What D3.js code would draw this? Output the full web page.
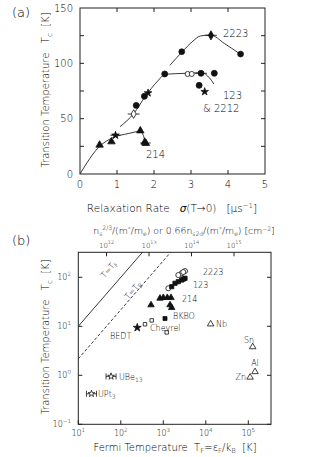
<!DOCTYPE html>
<html><head><meta charset="utf-8">
<script src="https://cdn.jsdelivr.net/npm/d3@7"></script>
<style>
body{margin:0;background:#fff;}
svg{display:block;font-family:"DejaVu Sans",sans-serif;font-weight:200;}
text{fill:#000;}
</style></head>
<body><svg id="c" width="315" height="457"></svg>
<script>
// ---------- Panel (a) data: sigma (us^-1), Tc (K) ----------
const a2223Circles = [[2.75,110.5],[4.34,108.4]];
const a2223Diamond = [[3.54,125.3]];
const a2223Curve = [[2.43,98.2],[2.75,110],[3.05,120],[3.25,124.7],[3.53,125.6],[3.9,118],[4.3,109]];
const a123Filled = [[1.52,62],[1.74,70.2],[2.29,90.4],[3.27,91],[3.63,91],[3.22,80.1]];
const a123Open = [[2.91,90.4],[3.02,90.4]];
const a123Stars = [[1.84,73.2],[3.37,74.4]];
const a123Crossed = [[1.45,54.2]];
const a123Curve = [[1.08,42.7],[1.46,55],[1.76,69.9],[2.1,84],[2.3,90.1],[2.88,91],[3.29,91.5],[3.5,86.8],[3.62,81.3]];
const a214Tri = [[0.53,26.2],[0.85,29.2],[1.63,39.1],[1.78,27.7],[1.75,28.8]];
const a214Stars = [[0.96,35]];
const a214Curve = [[0,0],[0.53,25],[0.9,33],[1.3,36.5],[1.62,38.5],[1.71,35],[1.77,27.5]];
const aErrBars = [[3.54,125.3,0.16],[1.45,54.2,0.16],[3.27,91,0.16],[1.77,28,0.14],[0.96,35,0.14]];
const aXTicks = [0,1,2,3,4,5];
const aYTicks = [0,50,100,150];
const aYMinor = [25,75,125];

// ---------- Panel (b) data: T_F (K), Tc (K) ----------
const b2223Open = [[3240,134],[2710,121],[2255,111],[1312,59.7],[2950,128]];
const b123Filled = [[3240,95.4],[2710,88],[2255,81.3],[1884,75.5],[1577,64.3],[2950,92]];
const b214Tri = [[514,27.2],[836,37.2],[1000,38.4],[1242,38.4],[1517,38.4],[1439,27.2],[1577,24]];
const bBKBO = [[1096,14.4]];
const bChevrel = [[371,11],[533,13.2],[1202,7.5]];
const bBEDT = [[244,9.4]];
const bMetals = [[13000,11.1],[127000,3.8],[144000,1.18],[110000,0.91]];
const bHeavy = [[59,0.95],[20.4,0.42]];
const bXTicks = [1,2,3,4,5];
const bYTicks = [-1,0,1,2];
const bTopTicks = [12,13,14,15];
const TB_RATIO = 4.6;

const svg = d3.select("#c");

// ================= Panel (a) =================
const ax = d3.scaleLinear().domain([0,5]).range([80,265]);
const ay = d3.scaleLinear().domain([0,150]).range([174,8]);
const ga = svg.append("g");
ga.append("rect").attr("x",80).attr("y",8).attr("width",185).attr("height",166)
  .attr("fill","none").attr("stroke","#222").attr("stroke-width",1);
const tk=4;
[1,2,3,4].forEach(v=>{
  ga.append("line").attr("x1",ax(v)).attr("x2",ax(v)).attr("y1",174).attr("y2",174-tk).attr("stroke","#222");
  ga.append("line").attr("x1",ax(v)).attr("x2",ax(v)).attr("y1",8).attr("y2",8+tk).attr("stroke","#222");
});
aXTicks.forEach(v=>ga.append("text").attr("x",ax(v)).attr("y",188).attr("text-anchor","middle").attr("font-size",10).text(v));
aYMinor.concat([50,100]).forEach(v=>{
  ga.append("line").attr("x1",80).attr("x2",80+tk).attr("y1",ay(v)).attr("y2",ay(v)).attr("stroke","#222");
  ga.append("line").attr("x1",265).attr("x2",265-tk).attr("y1",ay(v)).attr("y2",ay(v)).attr("stroke","#222");
});
aYTicks.forEach(v=>ga.append("text").attr("x",73).attr("y",ay(v)+3.5).attr("text-anchor","end").attr("font-size",10).text(v));

const lineA = d3.line().x(d=>ax(d[0])).y(d=>ay(d[1])).curve(d3.curveMonotoneX);
[a2223Curve,a123Curve,a214Curve].forEach(c=>ga.append("path").attr("d",lineA(c)).attr("fill","none").attr("stroke","#222").attr("stroke-width",0.9));

aErrBars.forEach(d=>ga.append("line").attr("x1",ax(d[0]-d[2])).attr("x2",ax(d[0]+d[2])).attr("y1",ay(d[1])).attr("y2",ay(d[1])).attr("stroke","#222").attr("stroke-width",0.9));

function sym(g, data, sx, sy, type, size, fill){
  g.selectAll(null).data(data).enter().append("path")
   .attr("d", d3.symbol().type(type).size(size))
   .attr("transform", d=>`translate(${sx(d[0])},${sy(d[1])})`)
   .attr("fill", fill ? "#111" : "#fff").attr("stroke","#111").attr("stroke-width",0.8);
}
sym(ga,a2223Circles,ax,ay,d3.symbolCircle,26,true);
sym(ga,a2223Diamond,ax,ay,d3.symbolDiamond,24,true);
sym(ga,a123Filled,ax,ay,d3.symbolCircle,28,true);
sym(ga,a123Open,ax,ay,d3.symbolCircle,20,false);
sym(ga,a123Stars,ax,ay,d3.symbolStar,18,true);
sym(ga,a123Crossed,ax,ay,d3.symbolDiamond,22,false);
sym(ga,a214Tri,ax,ay,d3.symbolTriangle,24,true);
sym(ga,a214Stars,ax,ay,d3.symbolStar,18,true);

ga.append("text").attr("x",223).attr("y",37).attr("font-size",10).text("2223");
ga.append("text").attr("x",223).attr("y",99).attr("font-size",10).text("123");
ga.append("text").attr("x",203).attr("y",112).attr("font-size",10).text("& 2212");
ga.append("text").attr("x",146).attr("y",158).attr("font-size",10).text("214");
ga.append("text").attr("x",12).attr("y",17).attr("font-size",13).text("(a)");

const xla = ga.append("text").attr("x",172).attr("y",212).attr("text-anchor","middle").attr("font-size",10.5).attr("xml:space","preserve");
xla.append("tspan").text("Relaxation Rate   ");
xla.append("tspan").attr("font-style","italic").text("σ");
xla.append("tspan").text("(T→0)   [μs");
xla.append("tspan").attr("dy",-4).attr("font-size",7).text("−1");
xla.append("tspan").attr("dy",4).text("]");

const yla = ga.append("text").attr("transform","translate(49,90) rotate(-90)").attr("text-anchor","middle").attr("font-size",10).attr("xml:space","preserve");
yla.append("tspan").text("Transition Temperature   T");
yla.append("tspan").attr("dy",3).attr("font-size",7).text("c");
yla.append("tspan").attr("dy",-3).text("  [K]");

// ================= Panel (b) =================
const bx = d3.scaleLog().domain([10, Math.pow(10,5.534)]).range([78.3,271]);
const by = d3.scaleLog().domain([0.1, Math.pow(10,2.51)]).range([424.3,252.3]);
const nOff = 12 - (106.5-78.3)/42.5; // top axis offset in decades
const btop = d3.scaleLog().domain([Math.pow(10,nOff), Math.pow(10,nOff+5.534-1)]).range([78.3,271]);
const gb = svg.append("g");
gb.append("rect").attr("x",78.3).attr("y",252.3).attr("width",271-78.3).attr("height",424.3-252.3)
  .attr("fill","none").attr("stroke","#222").attr("stroke-width",1);

function pow10(g,x,y,e,anchor,fs){
  const t=g.append("text").attr("x",x).attr("y",y).attr("text-anchor",anchor).attr("font-size",fs);
  t.append("tspan").text("10");
  t.append("tspan").attr("dy",-4).attr("font-size",fs*0.7).text(e);
  return t;
}
bXTicks.forEach(e=>{
  const x=bx(Math.pow(10,e));
  gb.append("line").attr("x1",x).attr("x2",x).attr("y1",424.3).attr("y2",424.3-tk).attr("stroke","#222");
  pow10(gb,x,436,e,"middle",8);
});
bYTicks.forEach(e=>{
  const y=by(Math.pow(10,e));
  gb.append("line").attr("x1",78.3).attr("x2",78.3+tk).attr("y1",y).attr("y2",y).attr("stroke","#222");
  gb.append("line").attr("x1",271).attr("x2",271-tk).attr("y1",y).attr("y2",y).attr("stroke","#222");
  pow10(gb,71,y+3,e===-1?"−1":e,"end",8);
});
bTopTicks.forEach(e=>{
  const x=btop(Math.pow(10,e));
  gb.append("line").attr("x1",x).attr("x2",x).attr("y1",252.3).attr("y2",252.3+tk).attr("stroke","#222");
  pow10(gb,x,248,e,"middle",7);
});

// T = T_F and T = T_B lines
svg.append("clipPath").attr("id","bclip").append("rect").attr("x",78.3).attr("y",252.3).attr("width",271-78.3).attr("height",424.3-252.3);
const tfLine = [10, 400];
gb.append("line").attr("clip-path","url(#bclip)")
  .attr("x1",bx(tfLine[0])).attr("y1",by(tfLine[0])).attr("x2",bx(tfLine[1])).attr("y2",by(tfLine[1]))
  .attr("stroke","#222").attr("stroke-width",0.9);
const tbLine = [10, 2000];
gb.append("line").attr("clip-path","url(#bclip)")
  .attr("x1",bx(tbLine[0])).attr("y1",by(tbLine[0]/TB_RATIO)).attr("x2",bx(tbLine[1])).attr("y2",by(tbLine[1]/TB_RATIO))
  .attr("stroke","#222").attr("stroke-width",0.9).attr("stroke-dasharray","3,2");
const ang = -Math.atan2(49,42.5)*180/Math.PI;
const tfl = gb.append("text").attr("transform",`translate(111,271) rotate(${ang})`).attr("text-anchor","middle").attr("font-size",8);
tfl.append("tspan").text("T=T");tfl.append("tspan").attr("dy",2).attr("font-size",6).text("F");
const tbl = gb.append("text").attr("transform",`translate(135,292) rotate(${ang})`).attr("text-anchor","middle").attr("font-size",8);
tbl.append("tspan").text("T=T");tbl.append("tspan").attr("dy",2).attr("font-size",6).text("B");

sym(gb,b2223Open,bx,by,d3.symbolCircle,20,false);
sym(gb,b123Filled,bx,by,d3.symbolSquare,18,true);
sym(gb,b214Tri,bx,by,d3.symbolTriangle,18,true);
sym(gb,bBKBO,bx,by,d3.symbolSquare,16,true);
sym(gb,bChevrel,bx,by,d3.symbolSquare,12,false);
sym(gb,bBEDT,bx,by,d3.symbolStar,20,true);
sym(gb,bMetals,bx,by,d3.symbolTriangle,18,false);
// heavy fermion symbols: capped horizontal bars with star
bHeavy.forEach(d=>{
  const x=bx(d[0]), y=by(d[1]);
  gb.append("line").attr("x1",x-5).attr("x2",x+5).attr("y1",y).attr("y2",y).attr("stroke","#111").attr("stroke-width",0.8);
  [-5,5].forEach(o=>gb.append("line").attr("x1",x+o).attr("x2",x+o).attr("y1",y-3).attr("y2",y+3).attr("stroke","#111").attr("stroke-width",0.8));
});
sym(gb,bHeavy,bx,by,d3.symbolStar,14,false);

const lab=(x,y,t,anc)=>gb.append("text").attr("x",x).attr("y",y).attr("font-size",8).attr("text-anchor",anc||"start").text(t);
lab(203,275,"2223"); lab(193,288,"123"); lab(182,302,"214"); lab(173,319,"BKBO");
lab(150,331,"Chevrel"); lab(110,339,"BEDT"); lab(216,327,"Nb");
lab(249,343,"Sn","middle"); lab(255,366,"Al","middle"); lab(246,380,"Zn","end");
const ub=gb.append("text").attr("x",119).attr("y",380).attr("font-size",8);
ub.append("tspan").text("UBe");ub.append("tspan").attr("dy",2).attr("font-size",6).text("13");
const up=gb.append("text").attr("x",98).attr("y",397).attr("font-size",8);
up.append("tspan").text("UPt");up.append("tspan").attr("dy",2).attr("font-size",6).text("3");

gb.append("text").attr("x",12).attr("y",245).attr("font-size",13).text("(b)");

const xlb = gb.append("text").attr("x",175).attr("y",451).attr("text-anchor","middle").attr("font-size",10).attr("xml:space","preserve");
xlb.append("tspan").text("Fermi Temperature  T");
xlb.append("tspan").attr("dy",2).attr("font-size",7).text("F");
xlb.append("tspan").attr("dy",-2).text("=ε");
xlb.append("tspan").attr("dy",2).attr("font-size",7).text("F");
xlb.append("tspan").attr("dy",-2).text("/k");
xlb.append("tspan").attr("dy",2).attr("font-size",7).text("B");
xlb.append("tspan").attr("dy",-2).text("  [K]");

const ylb = gb.append("text").attr("transform","translate(49,337) rotate(-90)").attr("text-anchor","middle").attr("font-size",10).attr("xml:space","preserve");
ylb.append("tspan").text("Transition Temperature   T");
ylb.append("tspan").attr("dy",3).attr("font-size",7).text("c");
ylb.append("tspan").attr("dy",-3).text("  [K]");

const tl = gb.append("text").attr("x",184).attr("y",234).attr("text-anchor","middle").attr("font-size",9.3).attr("xml:space","preserve");
tl.append("tspan").text("n");
tl.append("tspan").attr("dy",2).attr("font-size",6).text("s");
tl.append("tspan").attr("dy",-6).attr("font-size",6).text("2/3");
tl.append("tspan").attr("dy",4).text("/(m");
tl.append("tspan").attr("dy",-3).attr("font-size",6).text("*");
tl.append("tspan").attr("dy",3).text("/m");
tl.append("tspan").attr("dy",2).attr("font-size",6).text("e");
tl.append("tspan").attr("dy",-2).text(") or 0.66n");
tl.append("tspan").attr("dy",2).attr("font-size",6).text("s2d");
tl.append("tspan").attr("dy",-2).text("/(m");
tl.append("tspan").attr("dy",-3).attr("font-size",6).text("*");
tl.append("tspan").attr("dy",3).text("/m");
tl.append("tspan").attr("dy",2).attr("font-size",6).text("e");
tl.append("tspan").attr("dy",-2).text(") [cm");
tl.append("tspan").attr("dy",-3).attr("font-size",6).text("−2");
tl.append("tspan").attr("dy",3).text("]");
</script></body></html>
